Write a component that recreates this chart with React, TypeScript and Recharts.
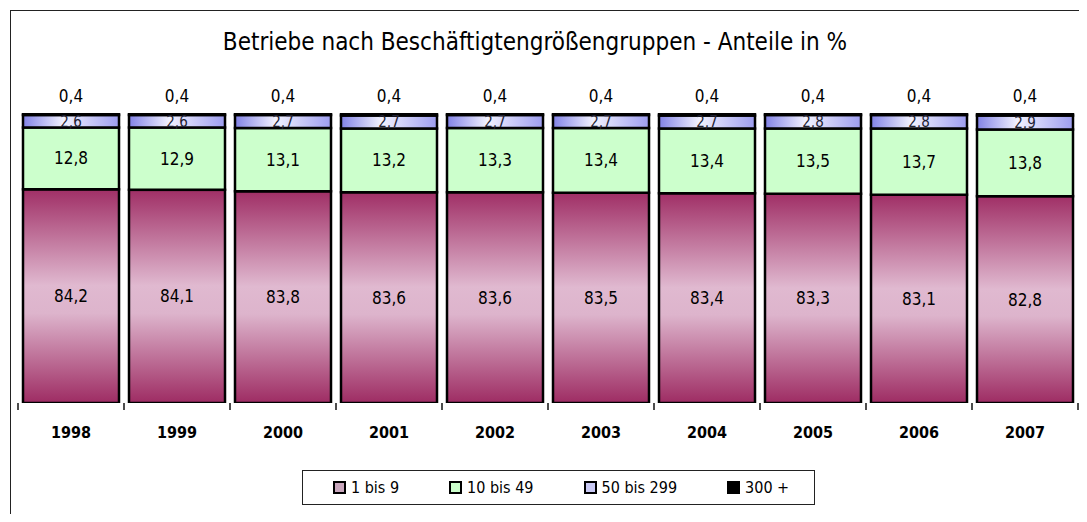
import React from "react"
import { BarChart, Bar, XAxis, YAxis, LabelList } from "recharts"

const YEARS = ["1998", "1999", "2000", "2001", "2002", "2003", "2004", "2005", "2006", "2007"]
const SMALL = [84.2, 84.1, 83.8, 83.6, 83.6, 83.5, 83.4, 83.3, 83.1, 82.8] // 1 bis 9
const MEDIUM = [12.8, 12.9, 13.1, 13.2, 13.3, 13.4, 13.4, 13.5, 13.7, 13.8] // 10 bis 49
const LARGE = [2.6, 2.6, 2.7, 2.7, 2.7, 2.7, 2.7, 2.8, 2.8, 2.9] // 50 bis 299
const HUGE = [0.4, 0.4, 0.4, 0.4, 0.4, 0.4, 0.4, 0.4, 0.4, 0.4] // 300 +
const SERIES_NAMES = ["1 bis 9", "10 bis 49", "50 bis 299", "300 +"]
const Y_DOMAIN: [number, number] = [40, 100]

const data = YEARS.map((year, i) => ({
  year,
  small: SMALL[i],
  medium: MEDIUM[i],
  large: LARGE[i],
  huge: HUGE[i],
}))

const W = 1087
const H = 522
const MARGIN = { top: 113, right: 9, left: 18, bottom: 89 }
const X_AXIS_H = 30
const PLOT_BOTTOM = H - MARGIN.bottom - X_AXIS_H
const BAND = (W - MARGIN.left - MARGIN.right) / YEARS.length
const FONT = '"DejaVu Sans Condensed", "DejaVu Sans", sans-serif'

const LEGEND_SWATCH = ["#c9a7bd", "#ccffcc", "#c9c9f4", "#000000"]

const fmt = (v: any) => Number(v).toFixed(1).replace(".", ",")

// pink bar is cut off by the y-domain, only draw the visible part
const SmallShape = (props: any) => {
  const { x, y, width } = props
  const h = PLOT_BOTTOM - y
  if (h <= 0) return null
  return (
    <rect x={x} y={y} width={width} height={h} fill="url(#pinkGrad)" stroke="#000" strokeWidth={2.5} />
  )
}

const SmallLabel = (props: any) => {
  const { x, y, width, value } = props
  const cy = y + (PLOT_BOTTOM - y) / 2
  return (
    <text x={x + width / 2} y={cy} textAnchor="middle" dominantBaseline="central" fontSize={17} fill="#000" fontFamily={FONT}>
      {fmt(value)}
    </text>
  )
}

const YearTick = (props: any) => {
  const { x, payload, index } = props
  const left = x - BAND / 2
  return (
    <g>
      <line x1={left} x2={left} y1={PLOT_BOTTOM} y2={PLOT_BOTTOM + 7} stroke="#111" strokeWidth={1.5} />
      {index === YEARS.length - 1 && (
        <line x1={x + BAND / 2} x2={x + BAND / 2} y1={PLOT_BOTTOM} y2={PLOT_BOTTOM + 7} stroke="#111" strokeWidth={1.5} />
      )}
      <text x={x} y={PLOT_BOTTOM + 35} textAnchor="middle" fontSize={16} fontWeight="bold" fill="#000" fontFamily={FONT}>
        {payload.value}
      </text>
    </g>
  )
}

export default function App() {
  return (
    <div style={{ position: "relative", width: W, height: H, margin: -8, overflow: "hidden", background: "#fff", fontFamily: FONT }}>
      {/* Rahmen, nur oben und links sichtbar */}
      <div style={{ position: "absolute", left: 10, top: 10, width: 1200, height: 700, border: "1.5px solid #222" }} />

      <div style={{ position: "absolute", left: 0, top: 28, width: 1070, textAlign: "center", fontSize: 24, lineHeight: "28px", color: "#000" }}>
        Betriebe nach Beschäftigtengrößengruppen - Anteile in %
      </div>

      <div style={{ position: "absolute", left: 0, top: 0 }}>
        <BarChart width={W} height={H} data={data} margin={MARGIN} barCategoryGap={5}>
          <defs>
            <linearGradient id="pinkGrad" x1="0" y1="0" x2="0" y2="1">
              <stop offset="0%" stopColor="#a02f66" />
              <stop offset="45%" stopColor="#e0b9d0" />
              <stop offset="58%" stopColor="#ddb4cc" />
              <stop offset="100%" stopColor="#9e2c63" />
            </linearGradient>
            <linearGradient id="blueGrad" x1="0" y1="0" x2="1" y2="0">
              <stop offset="0%" stopColor="#8282e6" />
              <stop offset="42%" stopColor="#f2f2ff" />
              <stop offset="100%" stopColor="#9d9def" />
            </linearGradient>
          </defs>
          <XAxis dataKey="year" height={X_AXIS_H} axisLine={false} tickLine={false} tick={<YearTick />} interval={0} />
          <YAxis hide domain={Y_DOMAIN} allowDataOverflow type="number" />
          <Bar dataKey="small" stackId="a" shape={<SmallShape />} isAnimationActive={false}>
            <LabelList dataKey="small" content={<SmallLabel />} />
          </Bar>
          <Bar dataKey="medium" stackId="a" fill="#ccffcc" stroke="#000" strokeWidth={2.5} isAnimationActive={false}>
            <LabelList dataKey="medium" position="center" formatter={fmt} fontSize={17} fill="#000" fontFamily={FONT} />
          </Bar>
          <Bar dataKey="large" stackId="a" fill="url(#blueGrad)" stroke="#000" strokeWidth={2.5} isAnimationActive={false}>
            <LabelList dataKey="large" position="center" formatter={fmt} fontSize={15} fill="#223" fontFamily={FONT} />
          </Bar>
          <Bar dataKey="huge" stackId="a" fill="#000" stroke="#000" strokeWidth={2.5} isAnimationActive={false}>
            <LabelList dataKey="huge" position="top" offset={11} formatter={fmt} fontSize={17} fill="#000" fontFamily={FONT} />
          </Bar>
        </BarChart>
      </div>

      <div
        style={{
          position: "absolute",
          left: 302,
          top: 470,
          width: 513,
          height: 35,
          boxSizing: "border-box",
          border: "1.5px solid #222",
          display: "flex",
          alignItems: "center",
          gap: 50,
          paddingLeft: 30,
          fontSize: 16,
          color: "#000",
        }}
      >
        {SERIES_NAMES.map((name, i) => (
          <div key={name} style={{ display: "flex", alignItems: "center", gap: 5 }}>
            <span style={{ width: 9, height: 9, background: LEGEND_SWATCH[i], border: "2px solid #000", display: "inline-block" }} />
            <span>{name}</span>
          </div>
        ))}
      </div>
    </div>
  )
}
